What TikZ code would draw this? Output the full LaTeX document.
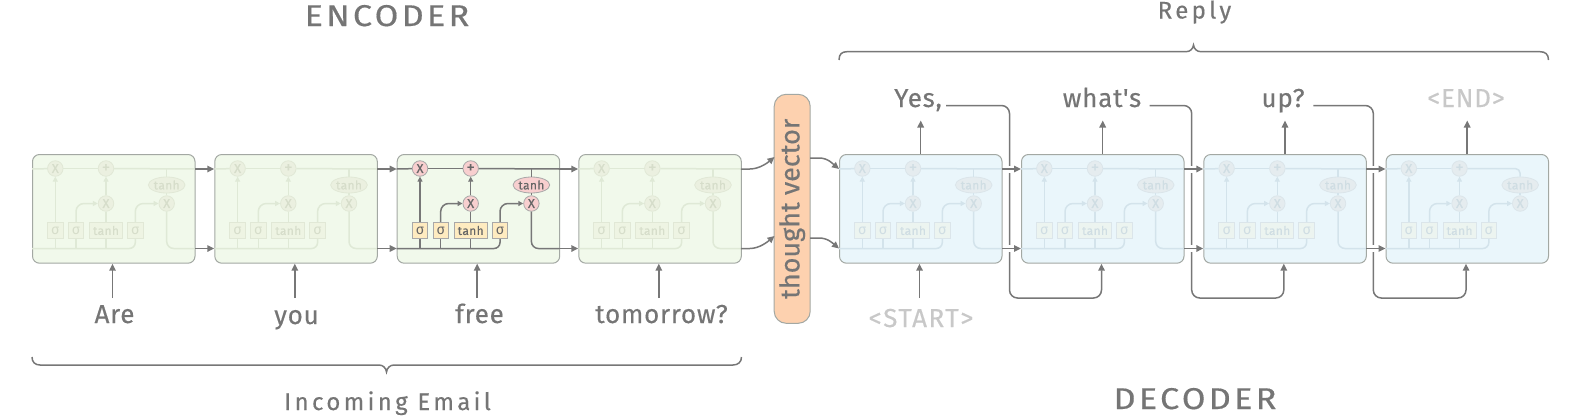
\documentclass[tikz,border=0pt]{standalone}
\usepackage{fontspec}
\setmainfont{Fira Sans}
\newfontfamily\plainf{Fira Sans}
\usetikzlibrary{arrows.meta,shapes.geometric}
\newcommand{\lsp}[1]{\addfontfeature{LetterSpace=#1,FakeBold=0.35}}
\newcommand{\lspw}[1]{\addfontfeature{LetterSpace=#1,FakeBold=0.5,FakeStretch=1.14}}
\definecolor{txt}{HTML}{757575}
\definecolor{lite}{HTML}{C8C8C8}
\definecolor{conn}{HTML}{777777}
\definecolor{edge}{HTML}{A3A8A3}
\definecolor{encfill}{HTML}{F1F9EB}
\definecolor{decfill}{HTML}{EAF6FB}
\definecolor{tvfill}{HTML}{FDD1AF}
\definecolor{ea}{HTML}{DFE9D6}\definecolor{eb}{HTML}{EBF0E0}\definecolor{ec}{HTML}{E1E8D6}\definecolor{ed}{HTML}{EEF4E3}\definecolor{ee}{HTML}{D6DDCA}
\definecolor{da}{HTML}{D3E3EB}\definecolor{db}{HTML}{E5ECEF}\definecolor{dc}{HTML}{DBE5EA}\definecolor{dd}{HTML}{ECF4F0}\definecolor{de}{HTML}{CFDDE3}
\definecolor{aa}{HTML}{777777}\definecolor{ab}{HTML}{F8CFCF}\definecolor{ac}{HTML}{A8A8A8}\definecolor{ad}{HTML}{FEEBC0}\definecolor{ae}{HTML}{666666}
\tikzset{
  cellbox/.style={draw=edge,line width=1pt,rounded corners=7,minimum width=162.5,minimum height=108.7,inner sep=0,anchor=north west},
  cline/.style={line width=1.5pt,line cap=butt},
  ctip/.style={-{Triangle[length=5pt,width=5pt]}},
  opcirc/.style={circle,minimum size=15.5,inner sep=0,line width=.8pt,font=\fontsize{13}{13}\selectfont\lsp{0}},
  opplus/.style={opcirc,font=\fontsize{17}{13}\selectfont\lsp{0}},
  opell/.style={ellipse,minimum width=32,minimum height=16,inner sep=0,line width=.8pt,font=\fontsize{12}{12}\selectfont\lsp{3}},
  opbox/.style={rectangle,minimum height=16.4,inner sep=0,line width=.8pt,font=\fontsize{12}{12}\selectfont\lsp{3}},
  opsig/.style={opbox,minimum width=15.5,font=\fontsize{14}{12}\selectfont},
  conn/.style={draw=conn,line width=1.5pt,-{Triangle[length=7pt,width=6.5pt]}},
  halo/.style={draw=white,line width=7pt},
  word/.style={text=txt,anchor=base,inner sep=0,font=\fontsize{26}{28}\selectfont\lsp{3}},
  liteword/.style={word,text=lite},
  title/.style={text=txt,anchor=base,inner sep=0,font=\fontsize{30}{32}\selectfont\lspw{11}},
  subtitle/.style={text=txt,anchor=base,inner sep=0,font=\fontsize{24}{26}\selectfont\lsp{14}},
  bracepath/.style={draw=conn,line width=1.5pt},
}
% #1 id, #2 left, #3 cell fill, #4 line, #5 circle fill, #6 stroke, #7 box fill, #8 text, #9 1 if it has outgoing lines
\newcommand{\lstmcell}[9]{%
\begin{scope}[shift={(#2,0)}]
  \node[cellbox,fill=#3] (#1box) at (0,154) {};
  \coordinate (#1tl) at (0,169);
  \coordinate (#1bl) at (0,248.5);
  \coordinate (#1tr) at (162.5,169);
  \coordinate (#1br) at (162.5,248.5);
  \coordinate (#1junc) at (134.7,169);
  \tikzset{opc/.style={opcirc,fill=#5,draw=#6,text=#8},opp/.style={opplus,fill=#5,draw=#6,text=#8},ope/.style={opell,fill=#5,draw=#6,text=#8},opb/.style={opbox,fill=#7,draw=#6,text=#8},ops/.style={opsig,fill=#7,draw=#6,text=#8}}
  \node[opc] (#1xa) at (23.3,168.5) {X};
  \node[opp] (#1pl) at (74,168.5) {+};
  \node[opc] (#1xb) at (74,203.5) {X};
  \node[opc] (#1xc) at (134.7,203.5) {X};
  \node[ope] (#1th) at (134.7,185) {tanh};
  \node[ops] (#1sa) at (23.3,230.5) {σ};
  \node[ops] (#1sb) at (44,230.5) {σ};
  \node[opb,minimum width=33] (#1tb) at (74,230.5) {tanh};
  \node[ops] (#1sc) at (103.3,230.5) {σ};
  \begin{scope}[cline,draw=#4,color=#4]
    \draw (#1tl) -- (#1xa);
    \draw (#1xa) -- (#1pl);
    \ifnum#9=1
      \draw (#1pl) -- (#1tr);
      \draw (#1th) -- (#1junc);
      \draw[rounded corners=7] (#1xc) |- (#1br);
    \else
      \draw[rounded corners=5] (#1pl) -| (#1th);
    \fi
    \draw (#1th) -- (#1xc);
    \draw[ctip] (#1sa) -- (#1xa);
    \draw[ctip] (#1xb) -- (#1pl);
    \draw (#1tb) -- (#1xb);
    \draw[ctip,rounded corners=8] (#1sb) |- (#1xb);
    \draw[ctip,rounded corners=8] (#1sc) |- (#1xc);
    \draw (#1sa.south) -- (#1sa.south |- #1bl);
    \draw (#1sb.south) -- (#1sb.south |- #1bl);
    \draw (#1tb.south) -- (#1tb.south |- #1bl);
    \draw[rounded corners=6] (#1bl) -| (#1sc.south);
  \end{scope}
  \coordinate (#1low) at (80.5,298);
  \coordinate (#1hi) at (81.7,120.5);
\end{scope}}
\begin{document}
\begin{tikzpicture}[x=1pt,y=-1pt]
\useasboundingbox (0,0) rectangle (1585,415);
\lstmcell{a}{32}{encfill}{ea}{eb}{ec}{ed}{ee}{1}
\lstmcell{b}{214.3}{encfill}{ea}{eb}{ec}{ed}{ee}{1}
\lstmcell{c}{396.7}{encfill}{aa}{ab}{ac}{ad}{ae}{1}
\lstmcell{d}{578.3}{encfill}{ea}{eb}{ec}{ed}{ee}{1}
\lstmcell{e}{839}{decfill}{da}{db}{dc}{dd}{de}{1}
\lstmcell{f}{1021}{decfill}{da}{db}{dc}{dd}{de}{1}
\lstmcell{g}{1203.3}{decfill}{da}{db}{dc}{dd}{de}{1}
\lstmcell{h}{1385.5}{decfill}{da}{db}{dc}{dd}{de}{0}
% thought vector
\node[draw=edge,line width=1pt,fill=tvfill,rounded corners=12,minimum width=229,minimum height=36,inner sep=0,rotate=90,text=txt,font=\fontsize{27}{30}\selectfont\lsp{0}] (tv) at (792.2,208.8) {thought vector};
% encoder words
\node[word] (wa) at (114.5,323) {Are};
\node[word] (wb) at (296.5,324) {you};
\node[word] (wc) at (479.5,323) {free};
\node[word] (wd) at (661.5,323) {tomorrow?};
% decoder words
\node[liteword,font=\fontsize{26}{28}\selectfont\lsp{6}] (we) at (921,327) {<START>};
\node[word] (wf) at (918,107) {Yes,};
\node[word,font=\fontsize{26}{28}\plainf\lsp{3}] (wg) at (1102,107) {what's};
\node[word] (wh) at (1283,107) {up?};
\node[liteword] (wi) at (1466,107) {<END>};
% titles
\node[title] (tenc) at (387,26) {ENCODER};
\node[title] (tdec) at (1195,409) {DECODER};
\node[subtitle] (trep) at (1194.5,18.5) {Reply};
\node[subtitle] (tinc) at (387.5,410) {Incoming Email};
% braces
\draw[bracepath] (839,60) .. controls (839,54) and (842,51.7) .. (847,51.7) -- (1186,51.7) .. controls (1190,51.7) and (1193,49) .. (1193.5,45) .. controls (1194,49) and (1197,51.7) .. (1201,51.7) -- (1540,51.7) .. controls (1545,51.7) and (1548.5,54) .. (1548.5,60);
\draw[bracepath] (32,357) .. controls (32,362) and (35,365) .. (40,365) -- (379,365) .. controls (383,365) and (386,368) .. (386.5,372) .. controls (387,368) and (390,365) .. (394,365) -- (733,365) .. controls (738,365) and (741.5,362) .. (741.5,357);
% feedback lines
\coordinate (fba) at (946,105.5);
\coordinate (fbb) at (1149.5,105.5);
\coordinate (fbc) at (1313.3,105.5);
\coordinate (vaa) at (1009.5,298);
\coordinate (vbb) at (1191.7,298);
\coordinate (vcc) at (1373.3,298);
\draw[conn,rounded corners=8] (fba) -| (vaa) -| (fbox.south -| flow);
\draw[conn,rounded corners=8] (fbb) -| (vbb) -| (gbox.south -| glow);
\draw[conn,rounded corners=8] (fbc) -| (vcc) -| (hbox.south -| hlow);
% between cells
\foreach \p/\q in {a/b,b/c,c/d}{
  \draw[conn] (\p tr) -- (\q tl);
  \draw[conn] (\p br) -- (\q bl);
}
\foreach \p/\q in {e/f,f/g,g/h}{
  \path[halo,shorten >=1pt,shorten <=1pt] (\p tr) -- (\q tl);
  \path[halo,shorten >=1pt,shorten <=1pt] (\p br) -- (\q bl);
  \draw[conn] (\p tr) -- (\q tl);
  \draw[conn] (\p br) -- (\q bl);
}
% word inputs and outputs
\foreach \p in {a,b,c,d,e}{ \draw[conn] (\p low) -- (\p box.south -| \p low); }
\foreach \p in {e,f,g,h}{ \draw[conn] (\p box.north -| \p hi) -- (\p hi); }
% thought vector connectors
\coordinate (tia) at (774.5,157);
\coordinate (tib) at (774.5,236);
\coordinate (toa) at (810,158);
\coordinate (tob) at (810,238);
\draw[conn] (dtr) -- ++(9,0) .. controls ++(10,0) and ++(-6,5) .. (tia);
\draw[conn] (dbr) -- ++(9,0) .. controls ++(10,0) and ++(-6,5) .. (tib);
\draw[conn] (toa) -- ++(9,0) .. controls ++(9,0) and ++(-6,-5) .. (etl);
\draw[conn] (tob) -- ++(9,0) .. controls ++(9,0) and ++(-6,-5) .. (ebl);
\end{tikzpicture}
\end{document}
